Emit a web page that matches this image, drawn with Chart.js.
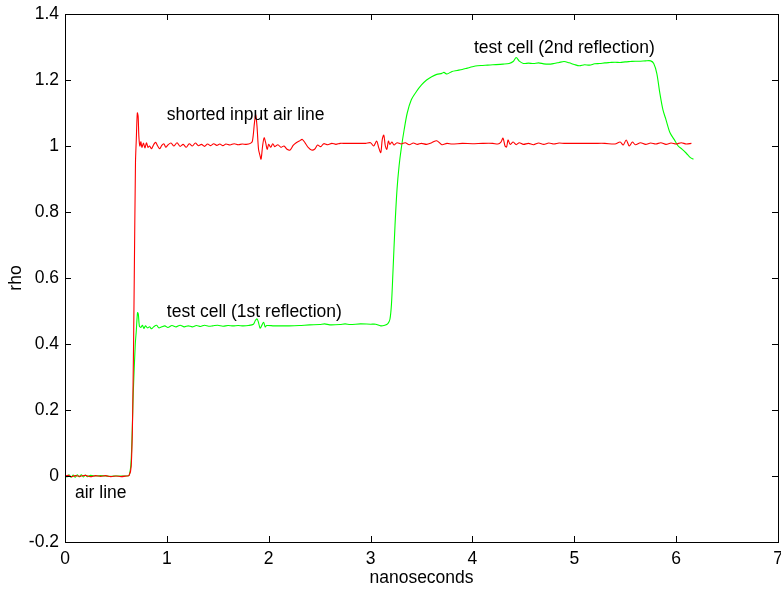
<!DOCTYPE html>
<html>
<head>
<meta charset="utf-8">
<title>rho vs nanoseconds</title>
<script src="https://cdn.jsdelivr.net/npm/chart.js@4.4.0/dist/chart.umd.min.js"></script>
<style>
  html, body { margin: 0; padding: 0; background: #fff; }
  #plot { display: block; }
</style>
</head>
<body>
<canvas id="plot" width="781" height="589"></canvas>
<script>
// Axis ticks
const xTicks = [0, 1, 2, 3, 4, 5, 6, 7];
const yTicks = [-0.2, 0, 0.2, 0.4, 0.6, 0.8, 1, 1.2, 1.4];

// Shorted input air line (red trace)
const redX = [0.00, 0.03, 0.06, 0.10, 0.15, 0.20, 0.25, 0.30, 0.35, 0.40, 0.45, 0.50, 0.55, 0.60, 0.63,
  0.65, 0.665, 0.68, 0.692, 0.70, 0.71, 0.718, 0.725, 0.735, 0.745, 0.755, 0.77, 0.785, 0.80, 0.815,
  0.83, 0.85, 0.87, 0.89, 0.91, 0.93, 0.95, 0.97, 0.99, 1.01, 1.04, 1.07, 1.10, 1.13, 1.16, 1.19,
  1.22, 1.25, 1.28, 1.31, 1.34, 1.37, 1.40, 1.43, 1.46, 1.49, 1.52, 1.55, 1.58, 1.62, 1.66, 1.70,
  1.74, 1.78, 1.82, 1.84, 1.86, 1.872, 1.885, 1.90, 1.915, 1.925, 1.94, 1.955, 1.97, 1.985, 2.00,
  2.02, 2.04, 2.06, 2.09, 2.12, 2.15, 2.18, 2.21, 2.24, 2.27, 2.30, 2.33, 2.36, 2.39, 2.42, 2.45,
  2.48, 2.51, 2.54, 2.58, 2.62, 2.66, 2.70, 2.75, 2.80, 2.85, 2.90, 2.95, 3.00, 3.03, 3.06, 3.08,
  3.10, 3.115, 3.13, 3.145, 3.16, 3.175, 3.19, 3.21, 3.23, 3.26, 3.30, 3.34, 3.38, 3.42, 3.46, 3.50,
  3.55, 3.60, 3.65, 3.70, 3.75, 3.80, 3.90, 4.00, 4.10, 4.20, 4.25, 4.28, 4.30, 4.32, 4.335, 4.35,
  4.37, 4.40, 4.43, 4.46, 4.50, 4.55, 4.60, 4.65, 4.70, 4.75, 4.80, 4.85, 4.90, 5.00, 5.10, 5.20,
  5.30, 5.40, 5.45, 5.48, 5.51, 5.54, 5.57, 5.60, 5.65, 5.70, 5.75, 5.80, 5.85, 5.90, 5.95, 6.00,
  6.05, 6.10, 6.15];
const redY = [0.000, 0.002, -0.002, 0.001, -0.001, 0.002, -0.002, 0.001, -0.001, 0.001, -0.002, 0.000, -0.002, 0.000, 0.002,
  0.03, 0.2, 0.6, 0.95, 1.02, 1.10, 1.09, 1.03, 1.00, 1.013, 0.996, 1.009, 0.994, 1.01, 0.996,
  1.0, 0.992, 1.004, 1.011, 1.0, 0.992, 1.002, 1.007, 0.996, 1.003, 1.009, 1.0, 1.01, 0.999, 1.005, 0.996,
  1.007, 1.0, 1.009, 1.001, 1.005, 0.999, 1.006, 1.001, 1.007, 1.002, 1.006, 1.001, 1.006, 1.003, 1.007, 1.004,
  1.006, 1.005, 1.008, 1.015, 1.07, 1.095, 1.06, 0.99, 0.97, 0.96, 1.0, 1.025, 1.01, 0.99, 1.005,
  0.996, 1.007, 0.998, 1.004, 0.996, 1.0, 0.99, 0.988, 1.002, 1.01, 1.015, 1.02, 1.008, 0.995, 0.988, 0.99,
  1.003, 0.998, 1.007, 1.004, 1.008, 1.005, 1.008, 1.008, 1.008, 1.008, 1.008, 1.008, 1.01, 1.0, 1.015, 0.995,
  0.98, 1.02, 1.033, 1.0, 0.99, 1.015, 1.005, 1.012, 1.003, 1.01, 1.006, 1.01, 1.004, 1.009, 1.005, 1.008,
  1.005, 1.01, 1.016, 1.004, 1.008, 1.006, 1.008, 1.007, 1.008, 1.008, 1.006, 1.012, 1.024, 1.0, 0.997, 1.018,
  1.005, 1.012, 1.004, 1.01, 1.005, 1.008, 1.004, 1.009, 1.005, 1.009, 1.006, 1.009, 1.008, 1.008, 1.008, 1.008,
  1.008, 1.006, 1.012, 1.003, 1.018, 1.0, 1.012, 1.004, 1.01, 1.005, 1.009, 1.006, 1.01, 1.005, 1.009, 1.006,
  1.01, 1.006, 1.008];

// Test cell reflections (green trace)
const greenX = [0.00, 0.02, 0.04, 0.06, 0.08, 0.10, 0.12, 0.14, 0.16, 0.18, 0.20, 0.22, 0.25, 0.30, 0.35,
  0.40, 0.45, 0.50, 0.55, 0.60, 0.63, 0.65, 0.67, 0.69, 0.70, 0.712, 0.72, 0.73, 0.745, 0.76, 0.775,
  0.79, 0.81, 0.83, 0.85, 0.87, 0.90, 0.92, 0.95, 0.98, 1.01, 1.05, 1.09, 1.13, 1.17, 1.21, 1.25,
  1.29, 1.33, 1.37, 1.41, 1.45, 1.50, 1.55, 1.60, 1.65, 1.70, 1.75, 1.80, 1.85, 1.87, 1.885, 1.90,
  1.915, 1.93, 1.95, 1.965, 1.98, 2.05, 2.10, 2.20, 2.30, 2.40, 2.50, 2.55, 2.60, 2.70, 2.75, 2.80,
  2.90, 3.00, 3.05, 3.10, 3.14, 3.17, 3.19, 3.205, 3.22, 3.24, 3.26, 3.28, 3.30, 3.33, 3.36, 3.40,
  3.45, 3.50, 3.55, 3.60, 3.65, 3.70, 3.72, 3.75, 3.80, 3.85, 3.90, 3.95, 4.00, 4.05, 4.10, 4.15,
  4.20, 4.30, 4.36, 4.40, 4.43, 4.46, 4.50, 4.55, 4.60, 4.65, 4.70, 4.75, 4.80, 4.85, 4.90, 4.95,
  5.00, 5.05, 5.10, 5.15, 5.20, 5.25, 5.30, 5.35, 5.40, 5.45, 5.50, 5.55, 5.60, 5.65, 5.70, 5.75,
  5.78, 5.81, 5.84, 5.87, 5.90, 5.94, 5.98, 6.02, 6.06, 6.10, 6.14, 6.17];
const greenY = [0.002, -0.003, 0.004, -0.004, 0.003, -0.004, 0.004, -0.003, 0.004, -0.003, 0.003, -0.002, 0.002, 0.0, 0.001,
  0.0, -0.001, 0.0, 0.0, 0.0, 0.002, 0.05, 0.25, 0.40, 0.44, 0.495, 0.49, 0.455, 0.45, 0.457, 0.447,
  0.455, 0.449, 0.452, 0.446, 0.452, 0.457, 0.449, 0.452, 0.455, 0.45, 0.456, 0.452, 0.457, 0.452, 0.455, 0.452,
  0.456, 0.453, 0.457, 0.454, 0.455, 0.457, 0.454, 0.456, 0.455, 0.456, 0.455, 0.456, 0.46, 0.472, 0.476, 0.465,
  0.448, 0.455, 0.466, 0.452, 0.456, 0.455, 0.455, 0.455, 0.456, 0.458, 0.459, 0.461, 0.458, 0.459, 0.461, 0.459,
  0.461, 0.46, 0.46, 0.455, 0.457, 0.462, 0.475, 0.52, 0.62, 0.76, 0.87, 0.94, 0.99, 1.05, 1.10, 1.14,
  1.165, 1.185, 1.20, 1.21, 1.217, 1.22, 1.223, 1.218, 1.226, 1.229, 1.232, 1.236, 1.24, 1.243, 1.244, 1.245,
  1.246, 1.248, 1.25, 1.256, 1.268, 1.257, 1.25, 1.251, 1.25, 1.252, 1.249, 1.248, 1.25, 1.253, 1.256, 1.252,
  1.247, 1.243, 1.246, 1.245, 1.249, 1.25, 1.252, 1.253, 1.254, 1.253, 1.255, 1.256, 1.257, 1.257, 1.258, 1.258,
  1.25, 1.22, 1.16, 1.11, 1.08, 1.04, 1.02, 1.0, 0.99, 0.978, 0.965, 0.96];

// Text notes placed in data coordinates (left edge, baseline)
const notes = [
  { text: 'shorted input air line', x: 1.0, y: 1.079 },
  { text: 'test cell (1st reflection)', x: 1.0, y: 0.483 },
  { text: 'test cell (2nd reflection)', x: 4.015, y: 1.281 },
  { text: 'air line', x: 0.098, y: -0.067 }
];

const FONT = { family: '"Liberation Sans", Arial, Helvetica, sans-serif', size: 17.5 };

function toPoints(xs, ys) {
  return xs.map((v, i) => ({ x: v, y: ys[i] }));
}

// Box frame with inward ticks on all four sides, plus the text notes
const framePlugin = {
  id: 'frame',
  afterDatasetsDraw(chart) {
    const { ctx, chartArea: a, scales: { x, y } } = chart;
    const len = 6;
    ctx.save();
    ctx.strokeStyle = '#000';
    ctx.lineWidth = 1;
    ctx.beginPath();
    xTicks.forEach(v => {
      const px = Math.round(x.getPixelForValue(v)) + 0.5;
      ctx.moveTo(px, a.bottom); ctx.lineTo(px, a.bottom - len);
      ctx.moveTo(px, a.top); ctx.lineTo(px, a.top + len);
    });
    yTicks.forEach(v => {
      const py = Math.round(y.getPixelForValue(v)) + 0.5;
      ctx.moveTo(a.left, py); ctx.lineTo(a.left + len, py);
      ctx.moveTo(a.right, py); ctx.lineTo(a.right - len, py);
    });
    ctx.stroke();
    ctx.strokeRect(Math.round(a.left) + 0.5, Math.round(a.top) + 0.5,
      Math.round(a.right - a.left), Math.round(a.bottom - a.top));

    ctx.fillStyle = '#000';
    ctx.font = FONT.size + 'px ' + FONT.family;
    ctx.textAlign = 'left';
    ctx.textBaseline = 'alphabetic';
    notes.forEach(n => {
      ctx.fillText(n.text, x.getPixelForValue(n.x), y.getPixelForValue(n.y));
    });
    ctx.restore();
  }
};

new Chart(document.getElementById('plot').getContext('2d'), {
  type: 'scatter',
  data: {
    datasets: [{
      label: 'shorted input air line',
      data: toPoints(redX, redY),
      showLine: true,
      borderColor: '#ff0000',
      borderWidth: 1.1,
      pointRadius: 0,
      tension: 0.3
    }, {
      label: 'test cell',
      data: toPoints(greenX, greenY),
      showLine: true,
      borderColor: '#00ff00',
      borderWidth: 1.1,
      pointRadius: 0,
      tension: 0.3
    }]
  },
  options: {
    responsive: false,
    animation: false,
    devicePixelRatio: 1,
    layout: { padding: { top: 14, right: 3, left: 0, bottom: 0 } },
    plugins: {
      legend: { display: false },
      tooltip: { enabled: false }
    },
    scales: {
      x: {
        type: 'linear',
        min: 0,
        max: 7,
        afterBuildTicks: s => { s.ticks = xTicks.map(v => ({ value: v })); },
        afterFit: s => { s.height = 47; s.paddingLeft = 0; s.paddingRight = 0; },
        grid: { display: false, drawTicks: false },
        border: { display: false },
        ticks: { color: '#000', font: FONT, padding: 7, maxRotation: 0, callback: v => String(v) },
        title: { display: true, text: 'nanoseconds', color: '#000', font: FONT, padding: { top: 0, bottom: 0 } }
      },
      y: {
        type: 'linear',
        min: -0.2,
        max: 1.4,
        afterBuildTicks: s => { s.ticks = yTicks.map(v => ({ value: v })); },
        afterFit: s => { s.width = 65; s.paddingTop = 0; s.paddingBottom = 0; },
        grid: { display: false, drawTicks: false },
        border: { display: false },
        ticks: { color: '#000', font: FONT, padding: 6, callback: v => String(Math.round(v * 10) / 10) },
        title: { display: true, text: 'rho', color: '#000', font: FONT, padding: { top: 6, bottom: 0 } }
      }
    }
  },
  plugins: [framePlugin]
});
</script>
</body>
</html>
